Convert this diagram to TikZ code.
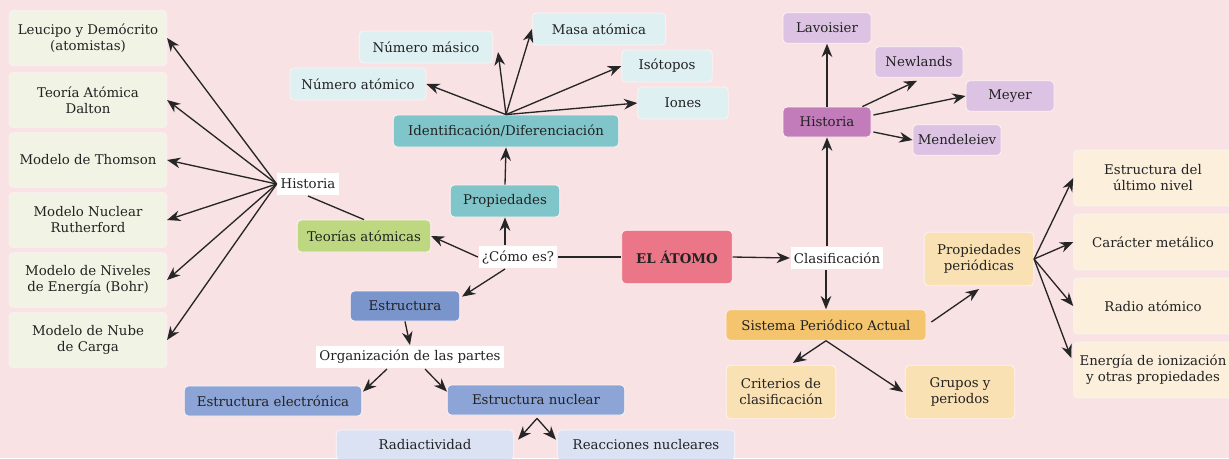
\documentclass[tikz,border=0pt]{standalone}
\usepackage{fontspec}
\setmainfont{DejaVu Serif}
\usetikzlibrary{arrows.meta,calc}

\definecolor{fondo}{HTML}{F9E2E4}
\definecolor{texto}{HTML}{222222}
\definecolor{linea}{HTML}{262626}
\definecolor{verdeclaro}{HTML}{F1F4E4}
\definecolor{verde}{HTML}{BED882}
\definecolor{turquesa}{HTML}{80C5C9}
\definecolor{celeste}{HTML}{DEF0F2}
\definecolor{rojo}{HTML}{EA7687}
\definecolor{azul}{HTML}{7A94CC}
\definecolor{azulmedio}{HTML}{8CA5D6}
\definecolor{azulclaro}{HTML}{DAE2F4}
\definecolor{morado}{HTML}{C27CBA}
\definecolor{lila}{HTML}{DDC3E3}
\definecolor{naranja}{HTML}{F4C46E}
\definecolor{crema}{HTML}{FAE1B4}
\definecolor{cremaclaro}{HTML}{FCEFDC}

\begin{document}
\begin{tikzpicture}[line width=1pt,>={Stealth[length=10pt,width=8pt]},
  x=0.75pt, y=-0.75pt, font=\fontsize{10}{12}\selectfont]
\tikzset{caja/.style={rectangle,rounded corners=3pt,draw=white!60!fondo,line width=0.6pt,
    align=center,inner sep=1pt,text=texto},
  etiq/.style={fill=white,inner sep=2.5pt,minimum height=17pt,text=texto},
  flecha/.style={->,draw=linea},
  nexo/.style={draw=linea}}
% ---------- fondo ----------
\useasboundingbox (0,0) rectangle (1229,458);
\clip (0,0) rectangle (1229,458);
\fill[fondo] (0,0) rectangle (1229,458);
% ---------- centro ----------
\node[caja,fill=rojo,minimum width=83pt,minimum height=40pt] (atomo) at (677,257) {\bfseries EL ÁTOMO};
\node[etiq] (como) at (518,257) {¿Cómo es?};
\node[etiq] (clas) at (837,258) {Clasificación};
% ---------- historia (teorías) ----------
\newcommand\modelo[3]{\node[caja,fill=verdeclaro,minimum width=118pt,minimum height=41pt] (#1) at (88,#2) {#3};}
\modelo{leu}{38}{Leucipo y Demócrito\\(atomistas)}
\modelo{dal}{100}{Teoría Atómica\\Dalton}
\modelo{thom}{160}{Modelo de Thomson}
\modelo{ruth}{220}{Modelo Nuclear\\Rutherford}
\modelo{bohr}{280}{Modelo de Niveles\\de Energía (Bohr)}
\modelo{nube}{340}{Modelo de Nube\\de Carga}
\node[etiq] (hist1) at (308,184) {Historia};
\node[caja,fill=verde,minimum width=100pt,minimum height=24pt] (teor) at (364,236) {Teorías atómicas};
% ---------- propiedades ----------
\node[caja,fill=turquesa,minimum width=82pt,minimum height=24pt] (prop) at (505,201) {Propiedades};
\node[caja,fill=turquesa,minimum width=169pt,minimum height=24pt] (ident) at (506,131) {Identificación/Diferenciación};
\newcommand\dato[4]{\node[caja,fill=celeste,minimum width=#2,minimum height=24pt] (#1) at (#3) {#4};}
\dato{numat}{102pt}{358,84}{Número atómico}
\dato{nummas}{100pt}{426,47}{Número másico}
\dato{masa}{100pt}{599,29}{Masa atómica}
\dato{iso}{68pt}{667,66}{Isótopos}
\dato{iones}{68pt}{683,103}{Iones}
% ---------- estructura ----------
\node[caja,fill=azul,minimum width=82pt,minimum height=22.5pt] (estr) at (405,306) {Estructura};
\node[etiq] (org) at (410,357) {Organización de las partes};
\node[caja,fill=azulmedio,minimum width=133pt,minimum height=22.5pt] (elec) at (273,401) {Estructura electrónica};
\node[caja,fill=azulmedio,minimum width=133pt,minimum height=22.5pt] (nuc) at (536,400) {Estructura nuclear};
\node[caja,fill=azulclaro,minimum width=133pt,minimum height=22.5pt] (radio) at (425,445) {Radiactividad};
\node[caja,fill=azulclaro,minimum width=133pt,minimum height=22.5pt] (reac) at (646,445) {Reacciones nucleares};
% ---------- clasificación ----------
\newcommand\quimico[3]{\node[caja,fill=lila,minimum width=66pt,minimum height=23pt] (#1) at (#2) {#3};}
\node[caja,fill=morado,minimum width=66pt,minimum height=22.5pt] (hist2) at (827,122) {Historia};
\quimico{lav}{827,28}{Lavoisier}
\quimico{newl}{919,62}{Newlands}
\quimico{meyer}{1010,96}{Meyer}
\quimico{mend}{957,140}{Mendeleiev}
\node[caja,fill=naranja,minimum width=150pt,minimum height=23pt] (sist) at (826,325) {Sistema Periódico Actual};
\node[caja,fill=crema,minimum width=82pt,minimum height=40pt] (propp) at (979,259) {Propiedades\\periódicas};
\node[caja,fill=crema,minimum width=82pt,minimum height=40pt] (crit) at (781,392) {Criterios de\\clasificación};
\node[caja,fill=crema,minimum width=82pt,minimum height=40pt] (grup) at (960,392) {Grupos y\\periodos};
\newcommand\propiedad[3]{\node[caja,fill=cremaclaro,minimum width=119pt,minimum height=42pt] (#1) at (1153,#2) {#3};}
\propiedad{ult}{178}{Estructura del\\último nivel}
\propiedad{car}{242}{Carácter metálico}
\propiedad{rad}{306}{Radio atómico}
\propiedad{ener}{370}{Energía de ionización\\y otras propiedades}
% ---------- conectores ----------
\foreach \m in {leu,dal,thom,ruth,bohr,nube} \draw[flecha] (hist1.west) -- (\m.east);
\draw[nexo] (hist1.south) -- (teor.north);
\draw[flecha] (como.west) -- (teor.east);
\draw[nexo] (como.east) -- (atomo.west);
\draw[flecha] (prop.south |- como.north) -- (prop.south);
\draw[flecha] (prop.north) -- (ident.south);
\draw[flecha] (ident.north) -- (numat.east);
\draw[flecha] (ident.north) -- ($(nummas.east)+(5,5)$);
\draw[flecha] (ident.north) -- (masa.west);
\draw[flecha] (ident.north) -- (iso.west);
\draw[flecha] (ident.north) -- (iones.west);
\draw[flecha] (prop.south |- como.south) -- ($(estr.north east)+(2,6)$);
\draw[flecha] (estr.south) -- (org.north);
\draw[flecha] ($(org.south)+(-23,0)$) -- ($(elec.north east)+(1,6)$);
\draw[flecha] ($(org.south)+(15,0)$) -- ($(nuc.north west)+(0,7)$);
\draw[flecha] ($(nuc.south)+(1,3)$) -- ($(radio.north east)+(4,10)$);
\draw[flecha] ($(nuc.south)+(1,3)$) -- ($(reac.north west)+(-1,10)$);
\draw[flecha] (atomo.east) -- (clas.west);
\draw[flecha] (hist2.south |- clas.north) -- (hist2.south);
\draw[flecha] (sist.north |- clas.south) -- (sist.north);
\draw[flecha] (hist2.north) -- (lav.south);
\draw[flecha] ($(hist2.north east)+(-9,0)$) -- ($(newl.south)+(-2,3)$);
\draw[flecha] ($(hist2.east)+(2,-7)$) -- (meyer.west);
\draw[flecha] ($(hist2.east)+(2,10)$) -- (mend.west);
\draw[flecha] ($(sist.east)+(5,-3)$) -- ($(propp.south)+(0,3)$);
\draw[flecha] (sist.south) -- ($(crit.north)+(12,-2)$);
\draw[flecha] (sist.south) -- ($(grup.west)+(-2,0)$);
\foreach \p in {ult,car,rad} \draw[flecha] (propp.east) -- (\p.west);
\draw[flecha] (propp.east) -- ($(ener.west)+(-2,-12)$);
\end{tikzpicture}
\end{document}
